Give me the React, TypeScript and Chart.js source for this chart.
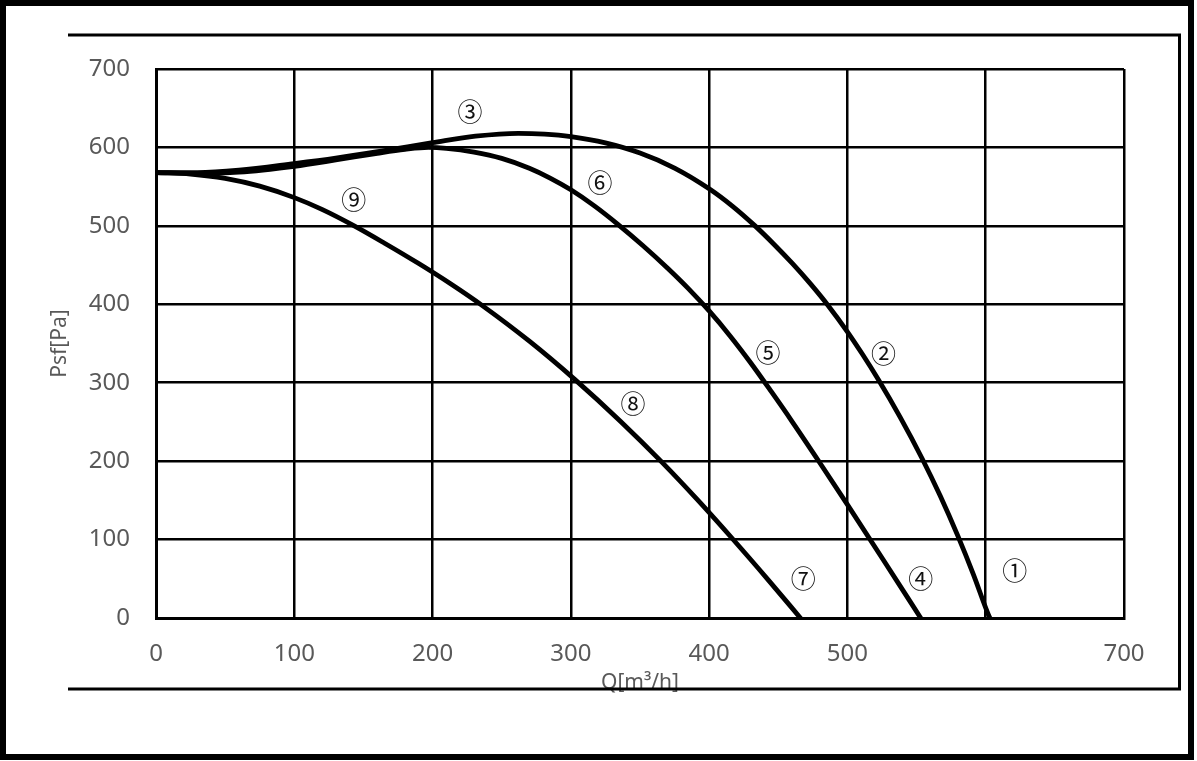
import React, { useEffect, useRef } from 'react';
import { Chart, registerables } from 'chart.js';

Chart.register(...registerables);

// Curve through markers ①②③
const qCurveA = [0, 30, 60, 100, 130, 165, 200, 231, 262, 281, 300, 325, 350, 375, 400, 417, 433, 447, 460, 473, 486, 500, 511, 522, 538, 554, 567, 580, 591, 602, 603];
const pCurveA = [568, 568, 571, 579.5, 586.5, 596, 606, 614.3, 618, 617, 613.8, 605.8, 592.8, 573.7, 547.3, 524.9, 500.3, 476.3, 452.4, 426.6, 398.5, 364.9, 335.9, 305, 256.4, 203.4, 156.1, 104, 55.9, 3.9, 0];

// Curve through markers ④⑤⑥
const qCurveB = [0, 30, 60, 100, 130, 160, 180, 197, 210, 230, 250, 270, 285, 300, 317, 334, 352, 370, 385, 400, 415, 430, 445, 460, 480, 500, 526, 553];
const pCurveB = [568, 567, 568.5, 576, 584, 592.5, 597.5, 600, 598.8, 594, 586, 573.5, 561, 546, 525.5, 502, 475, 446, 420, 391.5, 360, 325.5, 288.5, 250.5, 198, 144.5, 74, 0];

// Curve through markers ⑦⑧⑨
const qCurveC = [0, 25, 50, 75, 100, 120, 143, 165, 190, 213, 236, 270, 303, 336, 366, 392, 418, 443, 466];
const pCurveC = [568, 566, 560.5, 550.6, 536, 521, 500.3, 478.2, 451.9, 426.1, 398.3, 352.9, 303.9, 250.6, 198.4, 149.9, 98.8, 48, 0];

// Axis ticks
const xTickValues = [0, 100, 200, 300, 400, 500, 600, 700];
const xHiddenLabels = [600];
const yTickValues = [0, 100, 200, 300, 400, 500, 600, 700];
const xTitle = 'Q[m³/h]';
const yTitle = 'Psf[Pa]';

// Circled curve markers
const markerText = ['①', '②', '③', '④', '⑤', '⑥', '⑦', '⑧', '⑨'];
const markerQ = [621, 526, 227, 553, 442.5, 321, 468, 345, 143];
const markerP = [60, 337, 646, 51, 338, 555, 51, 273, 533];

const W = 1197;
const H = 761;

export default function App() {
  const ref = useRef<HTMLCanvasElement>(null);

  useEffect(() => {
    const canvas = ref.current;
    if (!canvas) return;
    const toPts = (q: number[], p: number[]) => q.map((x, i) => ({ x, y: p[i] }));

    const framePlugin = {
      id: 'frames',
      afterDraw(chart: any) {
        const ctx = chart.ctx;
        ctx.save();
        ctx.strokeStyle = '#000';
        ctx.lineWidth = 6;
        ctx.strokeRect(3, 3, 1188, 754);
        ctx.lineWidth = 3;
        ctx.beginPath();
        ctx.moveTo(68, 35);
        ctx.lineTo(1179.5, 35);
        ctx.lineTo(1179.5, 689);
        ctx.lineTo(68, 689);
        ctx.stroke();

        const xs = chart.scales.x;
        const ys = chart.scales.y;
        ctx.font = '25px "Noto Sans CJK JP"';
        ctx.fillStyle = '#111';
        ctx.textAlign = 'center';
        ctx.textBaseline = 'middle';
        markerText.forEach((t, i) => {
          ctx.fillText(t, xs.getPixelForValue(markerQ[i]), ys.getPixelForValue(markerP[i]));
        });
        ctx.restore();
      },
    };

    const lineStyle = {
      borderColor: '#000',
      borderWidth: 4.8,
      pointRadius: 0,
      fill: false,
      cubicInterpolationMode: 'monotone' as const,
      borderCapStyle: 'round' as const,
      borderJoinStyle: 'round' as const,
    };

    const chart = new Chart(canvas, {
      type: 'line',
      data: {
        datasets: [
          { label: 'A', data: toPts(qCurveA, pCurveA), ...lineStyle },
          { label: 'B', data: toPts(qCurveB, pCurveB), ...lineStyle },
          { label: 'C', data: toPts(qCurveC, pCurveC), ...lineStyle },
        ],
      },
      options: {
        responsive: false,
        animation: false,
        layout: { padding: { left: 47, top: 69, right: 73, bottom: 65 } },
        plugins: { legend: { display: false }, tooltip: { enabled: false } },
        scales: {
          x: {
            type: 'linear',
            min: 0,
            max: 700,
            afterFit: (s: any) => { s.height = 78; },
            afterBuildTicks: (s: any) => { s.ticks = xTickValues.map((v) => ({ value: v })); },
            ticks: {
              padding: 22,
              color: '#595959',
              font: { family: '"Noto Sans"', size: 24 },
              maxRotation: 0,
              autoSkip: false,
              callback: (v: any) => (xHiddenLabels.includes(Number(v)) ? '' : String(v)),
            },
            grid: { color: '#000', lineWidth: 2.5, drawTicks: false },
            border: { color: '#000', width: 3 },
            title: {
              display: true,
              text: xTitle,
              color: '#595959',
              font: { family: '"Noto Sans"', size: 21 },
              padding: 0,
            },
          },
          y: {
            type: 'linear',
            min: 0,
            max: 700,
            afterFit: (s: any) => { s.width = 109; },
            afterBuildTicks: (s: any) => { s.ticks = yTickValues.map((v) => ({ value: v })); },
            ticks: {
              padding: 26,
              color: '#595959',
              font: { family: '"Noto Sans"', size: 24 },
            },
            grid: { color: '#000', lineWidth: 2.5, drawTicks: false },
            border: { color: '#000', width: 3 },
            title: {
              display: true,
              text: yTitle,
              color: '#595959',
              font: { family: '"Noto Sans"', size: 21 },
              padding: 0,
            },
          },
        },
      },
      plugins: [framePlugin],
    });

    return () => chart.destroy();
  }, []);

  return (
    <div style={{ position: 'absolute', left: 0, top: 0, width: W, height: H, background: '#fff' }}>
      <canvas ref={ref} width={W} height={H} style={{ display: 'block', width: W, height: H }} />
    </div>
  );
}
